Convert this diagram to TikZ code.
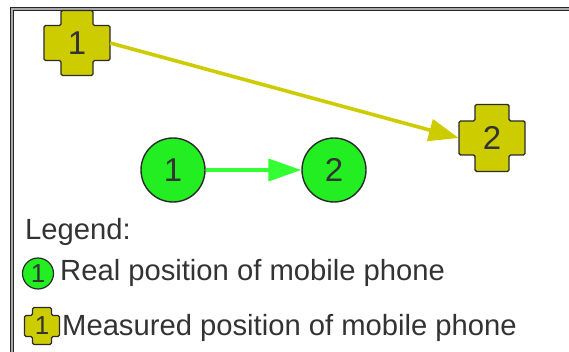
\documentclass[tikz,border=0pt]{standalone}
\usepackage{fontspec}
\setmainfont{Liberation Sans}
\usetikzlibrary{arrows.meta}
\definecolor{txt}{HTML}{333333}
\definecolor{edgec}{HTML}{2A2A2A}
\definecolor{measfill}{RGB}{204,204,0}
\definecolor{measline}{RGB}{204,204,0}
\definecolor{realfill}{RGB}{34,238,34}
\definecolor{realline}{RGB}{51,255,51}
\definecolor{framegray}{RGB}{170,170,170}
\tikzset{
  realnode/.style={circle, draw=edgec, line width=1.4pt, fill=realfill, text=txt,
    minimum size=64pt, inner sep=0pt, font=\fontsize{33}{33}\selectfont},
  smallreal/.style={circle, draw=edgec, line width=1.2pt, fill=realfill, text=txt,
    minimum size=31pt, inner sep=0pt, font=\fontsize{26}{26}\selectfont},
  measnode/.style={draw=none, minimum width=66pt, minimum height=66pt, inner sep=0pt,
    text=txt, font=\fontsize{33}{33}\selectfont},
  smallmeas/.style={draw=none, minimum width=35pt, minimum height=37pt, inner sep=0pt,
    text=txt, font=\fontsize{26}{26}\selectfont},
  crossline/.style={draw=edgec, fill=measfill, line width=1.4pt, rounded corners=1.5pt},
  legendtext/.style={anchor=base west, text=txt, font=\fontsize{29.2}{30}\selectfont, inner sep=0pt},
  pics/meascross/.style args={#1/#2/#3/#4}{code={
    \path[crossline] (-#3,#2) -- (#3,#2) -- (#3,#4) -- (#1,#4) -- (#1,-#4) -- (#3,-#4)
      -- (#3,-#2) -- (-#3,-#2) -- (-#3,-#4) -- (-#1,-#4) -- (-#1,#4) -- (-#3,#4) -- cycle;
  }},
}
\begin{document}
\begin{tikzpicture}[x=1pt,y=-1pt]
\useasboundingbox (0,0) rectangle (569,352);
% frame (double line)
\draw[line width=4pt, black!85] (12,352) -- (12,9) -- (569,9);
\draw[line width=1.8pt, framegray] (12,352) -- (12,9) -- (569,9);
% measured positions
\pic at (77,43) {meascross=33/32.5/16/17.5};
\node[measnode] (m1) at (77,43) {1};
\pic at (492,138) {meascross=33/33.5/17/17};
\node[measnode] (m2) at (492,138) {2};
\draw[measline, line width=3.6pt, -{Triangle[length=30pt,width=22pt]}] (m1.east) -- (m2.west);
% real positions
\node[realnode] (r1) at (173,170) {1};
\node[realnode] (r2) at (334,170) {2};
\draw[realline, line width=4pt, -{Triangle[length=33pt,width=22pt]}] (r1) -- (r2);
% legend
\node[legendtext] (lg) at (25,240) {Legend:};
\node[smallreal] (lr) at (38,273.5) {1};
\node[legendtext] (lrt) at (60,280) {Real position of mobile phone};
\pic at (42,326) {meascross=17.5/18.5/9.5/10.5};
\node[smallmeas] (lm) at (42,326) {1};
\node[legendtext] (lmt) at (62,335) {Measured position of mobile phone};
\end{tikzpicture}
\end{document}
